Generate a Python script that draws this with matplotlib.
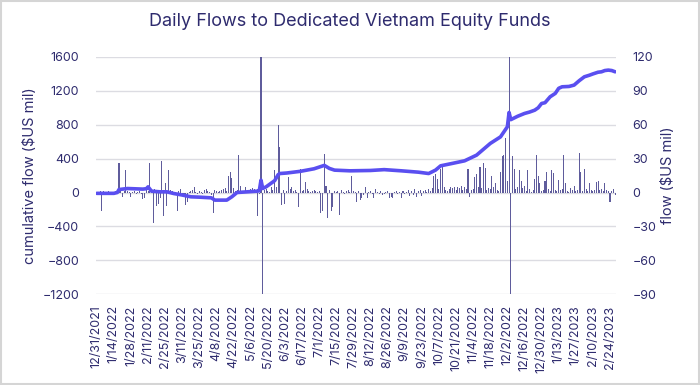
import numpy as np
import matplotlib
matplotlib.use("Agg")
import matplotlib.pyplot as plt
from matplotlib.patches import Rectangle

plt.rcParams['font.family'] = ['Inter', 'DejaVu Sans']

title = "Daily Flows to Dedicated Vietnam Equity Funds"

tick_labels = ['12/31/2021', '1/14/2022', '1/28/2022', '2/11/2022', '2/25/2022', '3/11/2022',
               '3/25/2022', '4/8/2022', '4/22/2022', '5/6/2022', '5/20/2022', '6/3/2022',
               '6/17/2022', '7/1/2022', '7/15/2022', '7/29/2022', '8/12/2022', '8/26/2022',
               '9/9/2022', '9/23/2022', '10/7/2022', '10/21/2022', '11/4/2022', '11/18/2022',
               '12/2/2022', '12/16/2022', '12/30/2022', '1/13/2023', '1/27/2023', '2/10/2023',
               '2/24/2023']
tick_step = 10  # business days between labels

# daily flow ($US mil), one value per business day
daily_flow = [
    0.5, -1, 1, -16, 1, 0.5, -0.5, 1, 0.5, -1,
    0.5, 1, 2, 26, 1, -4, 1, 20, 1, 0.5,
    -4, 0.5, 1, -1, 0.5, 1, -1, -6, -5, 2,
    1, 26, 2, -27, 3, -12, -10, -5, 28, -21,
    8, -12, 20, 2, 1, -1, 0.5, -16, 1, 3,
    -2, -1, -11, -8, 0.5, 1, 2, 5, 0.5, -1,
    1, 0.5, -1, 2, 3, 1, 0.5, -2, -18, 2,
    1, 0.5, 1, 2, 3, 4, 1, 15, 18, 13,
    4, 1, 2, 33, 6, 1, 0.5, 5, 1, 0.5,
    3, 4, 3, 1, -21, -1, 250, -250, 2, 3,
    1, 0.5, 5, 2, 20, 5, 60, 40, -11, 2,
    -10, 1, 14, 3, 5, 1, 2, 0.5, -13, 21,
    1, 2, 9, 3, 1, 0.5, 1, 2, 1, 0.5,
    1, -18, -16, 34, 6, -23, 2, -16, -13, 1,
    0.5, 1, -20, 2, 0.5, -1, 1, 2, 0.5, 15,
    1, 0.5, -8, 1, -7, -5, -2, 5, -5, 0.5,
    1, -1, -5, 3, 0.5, -1, 1, -2, -1, 0.5,
    1, -5, -4, -5, 0.5, 1, -1, 0.5, -5, 1,
    -1, 0.5, 2, -3, 1, -2, 3, -4, 1, 2,
    -3, 1, 2, 0.5, 3, 1, 4, 15, 16, 12,
    3, 21, 23, 5, 2, 1, 3, 5, 4, 5,
    2, 5, 4, 6, 2, 5, 3, 21, -4, 2,
    3, 14, 16, 5, 23, 4, 26, 22, 2, 4,
    3, 15, 5, 8, 2, 1, 18, 32, 33, 48,
    10, 250, -250, 32, 21, 3, 5, 20, 10, 4,
    6, 1, 20, 3, 0.5, 2, 12, 33, 15, 8,
    1, 2, 10, 18, 3, 1, 20, 17, 2, 1,
    11, 2, 3, 33, 8, 1, 0.5, 4, 2, 6,
    1, 2, 35, 18, 1, 21, 3, 1, 8, 2,
    1, 2, 9, 10, 2, 3, 1, 8, 2, 1,
    -8, 1, 3, -2,
]

# cumulative flow ($US mil), read at these business-day indices
cum_days = [0, 5, 10, 12, 13, 18, 27, 29, 30, 32, 37, 41, 45, 50, 55, 60, 67, 69, 76, 79,
            82, 88, 94, 95, 96, 97, 99, 104, 106, 107, 111, 119, 127, 133, 136, 139, 148, 160,
            168, 178, 188, 194, 198, 201, 207, 215, 222, 230, 236, 240, 241, 242, 243, 246,
            250, 253, 256, 258, 260, 262, 265, 268, 270, 272, 276, 279, 282, 285, 288, 290,
            293, 295, 297, 299, 301, 303]
cum_flow = [-10, -10, -10, 0, 35, 47, 40, 45, 67, 16, 8, 8, -12, -30, -51, -55, -63, -90, -90, -50,
            0, 8, 16, 20, 146, 47, 67, 140, 210, 224, 230, 250, 280, 320, 284, 264, 256, 260,
            270, 256, 240, 224, 264, 315, 340, 374, 441, 579, 657, 776, 945, 860, 870, 900,
            933, 950, 972, 1000, 1051, 1060, 1130, 1170, 1230, 1248, 1252, 1268, 1320, 1366, 1385, 1400,
            1420, 1425, 1440, 1445, 1440, 1425]

navy = '#2e2b6e'
bar_color = '#5f5c9c'
line_color = '#5a4ff0'
grid_color = '#dcdce2'

fig = plt.figure(figsize=(7, 3.85), dpi=100)
ax = fig.add_axes([0.137, 0.236, 0.743, 0.616])
ax2 = ax.twinx()

n = len(daily_flow)
x = np.arange(n)

# bars on right axis (drawn beneath)
ax2.set_zorder(ax.get_zorder() - 1)
ax.patch.set_visible(False)
ax2.bar(x, daily_flow, width=0.6, color=bar_color, linewidth=0, zorder=2)
ax2.set_ylim(-90, 120)
ax2.set_yticks(np.arange(-90, 121, 30))
ax2.grid(axis='y', color=grid_color, linewidth=1.0, zorder=0)
ax2.set_axisbelow(True)

# cumulative line on left axis
ax.plot(cum_days, cum_flow, color=line_color, linewidth=2.6, solid_capstyle='round',
        solid_joinstyle='round', zorder=3)
ax.set_ylim(-1200, 1600)
ax.set_yticks(np.arange(-1200, 1601, 400))
ax.set_xlim(-0.5, n - 0.5)
ax.set_xticks(np.arange(len(tick_labels)) * tick_step)
ax.set_xticklabels(tick_labels, rotation=90)

for a in (ax, ax2):
    for s in a.spines.values():
        s.set_visible(False)
    a.tick_params(axis='both', length=0, colors=navy, labelsize=9)
ax.tick_params(axis='y', pad=12)
ax2.tick_params(axis='y', pad=12)
ax.tick_params(axis='x', pad=8)

ax.set_ylabel('cumulative flow ($US mil)', color=navy, fontsize=10.5, labelpad=4)
ax2.set_ylabel('flow ($US mil)', color=navy, fontsize=10.5, labelpad=3)

fig.text(0.5, 0.943, title, ha='center', va='center', color=navy, fontsize=13)

fig.patches.append(Rectangle((0.002, 0.003), 0.996, 0.994, transform=fig.transFigure,
                             fill=False, edgecolor='#d5d5d5', linewidth=1.5))

fig.savefig('out.png', dpi=100)
